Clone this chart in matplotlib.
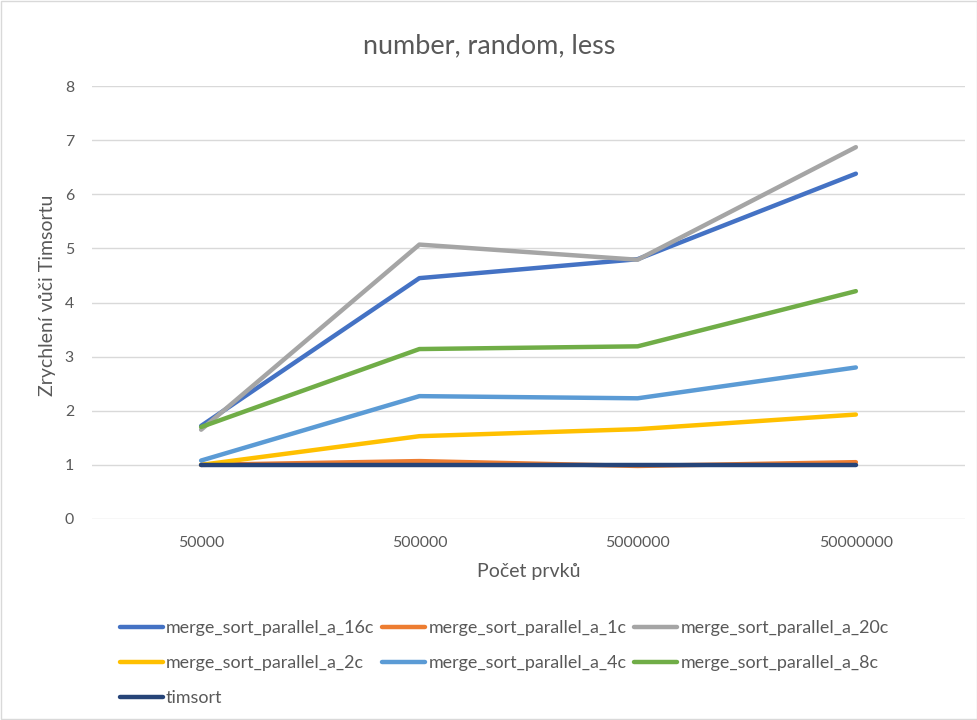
import matplotlib
matplotlib.use("Agg")
import matplotlib.pyplot as plt
from matplotlib.patches import Rectangle

plt.rcParams['font.family'] = ['Lato', 'DejaVu Sans']

title = "number, random, less"
x_labels = ["50000", "500000", "5000000", "50000000"]
x_title = "Počet prvků"
y_title = "Zrychlení vůči Timsortu"

series_names = [
    "merge_sort_parallel_a_16c",
    "merge_sort_parallel_a_1c",
    "merge_sort_parallel_a_20c",
    "merge_sort_parallel_a_2c",
    "merge_sort_parallel_a_4c",
    "merge_sort_parallel_a_8c",
    "timsort",
]
s_16c = [1.72, 4.45, 4.80, 6.38]
s_1c = [1.00, 1.07, 0.98, 1.05]
s_20c = [1.65, 5.07, 4.79, 6.87]
s_2c = [1.00, 1.53, 1.66, 1.93]
s_4c = [1.08, 2.27, 2.23, 2.80]
s_8c = [1.70, 3.14, 3.19, 4.21]
s_timsort = [1.00, 1.00, 1.00, 1.00]
series_values = [s_16c, s_1c, s_20c, s_2c, s_4c, s_8c, s_timsort]
colors = ["#4472C4", "#ED7D31", "#A5A5A5", "#FFC000", "#5B9BD5", "#70AD47", "#264478"]
y_ticks = [0, 1, 2, 3, 4, 5, 6, 7, 8]

text_color = "#595959"
grid_color = "#D9D9D9"

W, H, DPI = 978, 720, 100
fig = plt.figure(figsize=(W / DPI, H / DPI), dpi=DPI)
fig.patch.set_facecolor("white")
renderer = fig.canvas.get_renderer()
PX_PER_PT = DPI / 72.0


def text_extent(s, size):
    t = fig.text(0, 0, s, fontsize=size)
    bb = t.get_window_extent(renderer)
    t.remove()
    return bb.width, bb.height


def size_for_width(s, width_px, base=12.0):
    w, _ = text_extent(s, base)
    return base * width_px / w


# font sizes chosen so that each text spans the intended pixel width
fs_title = size_for_width(title, 252)
fs_axis_title = (size_for_width(x_title, 98) + size_for_width(y_title, 210)) / 2
fs_ticks = size_for_width("50000", 46)
fs_legend = size_for_width(series_names[0], 206)

fig.add_artist(Rectangle((0.001, 0.001), 0.998, 0.998, transform=fig.transFigure,
                         fill=False, edgecolor=grid_color, linewidth=1.0))

ax = fig.add_axes([92 / W, 1 - 519 / H, 873 / W, 433 / H])
xs = list(range(len(x_labels)))
handles = []
for name, vals, c in zip(series_names, series_values, colors):
    h, = ax.plot(xs, vals, color=c, linewidth=3.2, solid_capstyle="round",
                 solid_joinstyle="round", label=name, zorder=3)
    handles.append(h)

ax.set_xlim(-0.5, len(x_labels) - 0.5)
ax.set_ylim(0, 8)
ax.set_yticks(y_ticks)
ax.set_xticks(xs)
ax.set_xticklabels(x_labels)
ax.tick_params(axis="both", length=0, labelsize=fs_ticks, labelcolor=text_color)
ax.tick_params(axis="x", pad=12)
ax.tick_params(axis="y", pad=13)
ax.grid(axis="y", color=grid_color, linewidth=1.0, zorder=0)
for sp in ax.spines.values():
    sp.set_visible(False)

ax.set_xlabel(x_title, fontsize=fs_axis_title, color=text_color)
ax.set_ylabel(y_title, fontsize=fs_axis_title, color=text_color)
ax.xaxis.set_label_coords(0.5, -0.101)
ax.yaxis.set_label_coords(-0.041, 0.517)
fig.text(0.5, 1 - 46 / H, title, ha="center", va="center", fontsize=fs_title,
         color=text_color)

# Legend laid out row by row (matplotlib fills columns first)
fs_px = fs_legend * PX_PER_PT
_, row_h = text_extent(series_names[0], fs_legend)
first_row_center = 628
row_pitch = 35
order = [0, 3, 6, 1, 4, 2, 5]
leg = fig.legend([handles[i] for i in order], [series_names[i] for i in order],
                 ncol=3, loc="upper left",
                 bbox_to_anchor=(120 / W, 1 - (first_row_center - row_h / 2) / H),
                 frameon=False, fontsize=fs_legend,
                 handlelength=43 / fs_px, handletextpad=3 / fs_px,
                 columnspacing=8 / fs_px, labelspacing=(row_pitch - row_h) / fs_px,
                 borderaxespad=0, borderpad=0)
for t in leg.get_texts():
    t.set_color(text_color)

fig.savefig("out.png", dpi=DPI, facecolor="white")
